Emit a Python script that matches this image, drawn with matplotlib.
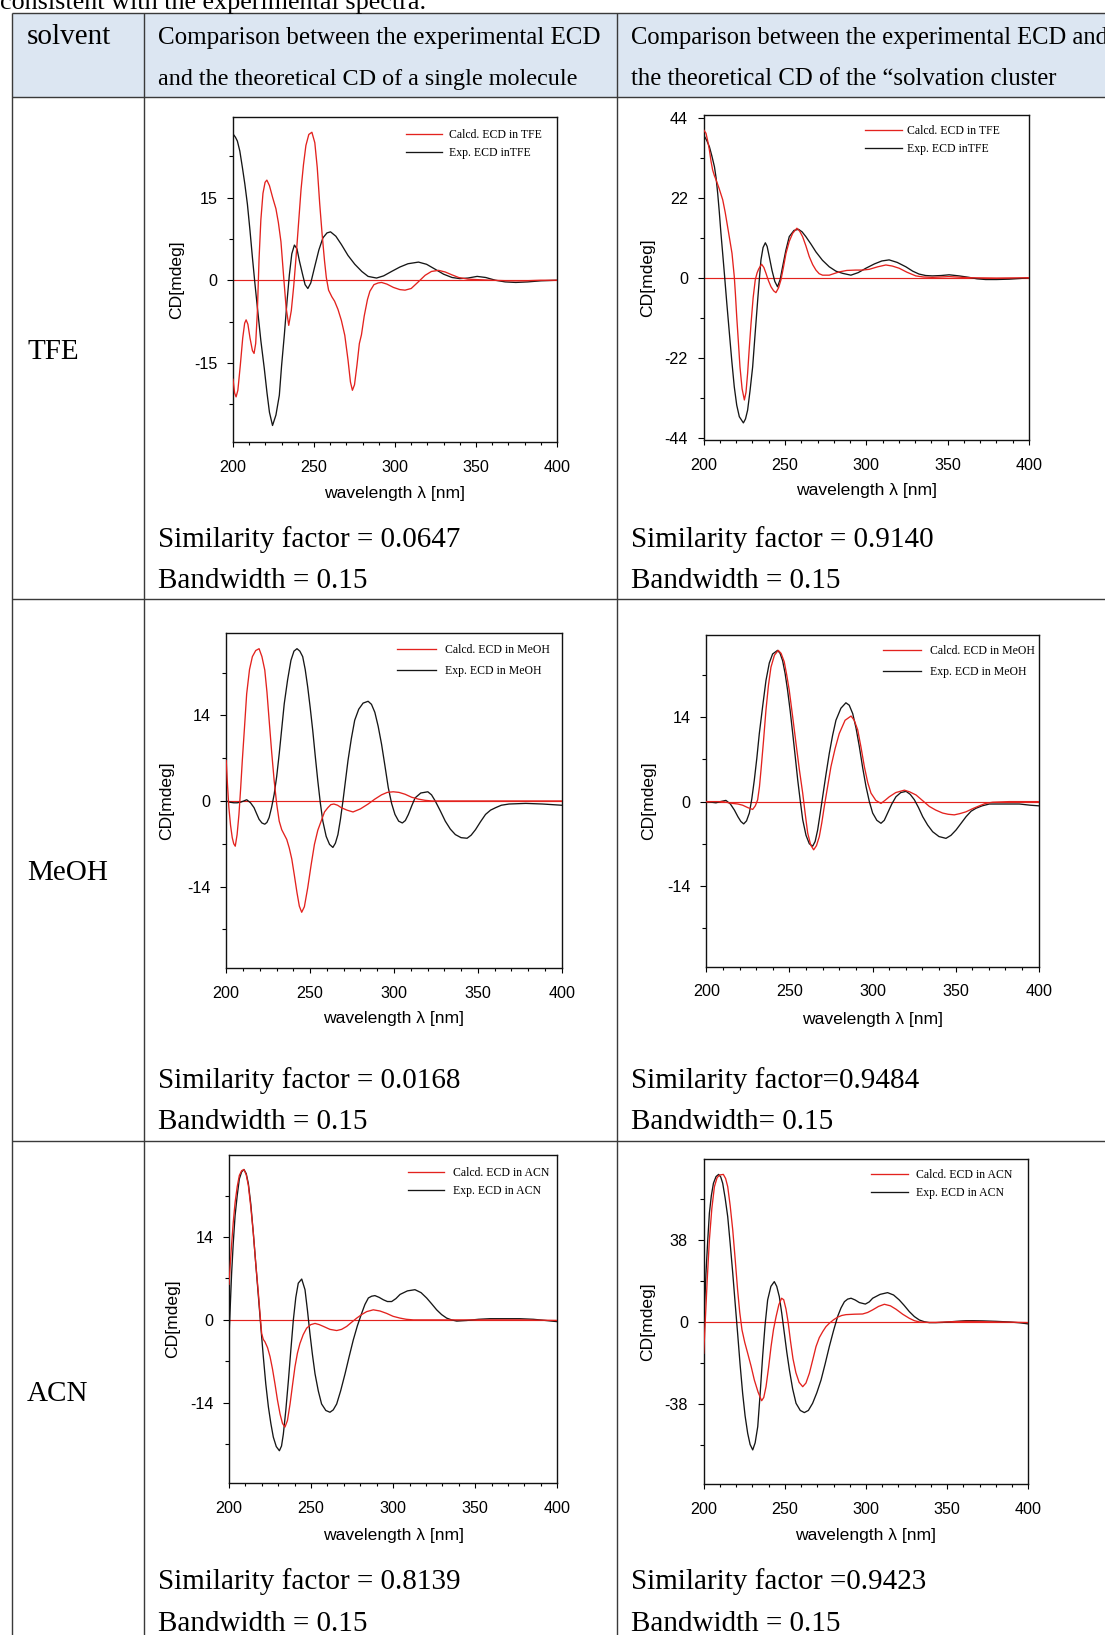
import matplotlib
matplotlib.use("Agg")
import matplotlib.pyplot as plt
from matplotlib.lines import Line2D
from matplotlib.patches import Rectangle
from matplotlib.ticker import FixedLocator, MultipleLocator, FixedFormatter

plt.rcParams["axes.unicode_minus"] = False

# ---------------- data ----------------
wavelength_ticks = [200, 250, 300, 350, 400]
wavelength_tick_labels = ["200", "250", "300", "350", "400"]

# TFE, single molecule
tfe_single_calc_wl = [200, 201, 201.9, 203, 204.5, 206, 207.2, 208.1, 209.2, 210.5, 212, 213, 214, 215, 216.1,
                      217.2, 218.5, 219.8, 220.9, 222.5, 224.5, 226.5, 228, 229.6, 231.3, 232.8, 234.4, 236,
                      237.5, 239, 240.5, 242, 243.5, 245, 246.8, 248.7, 250.5, 252, 253.5, 255, 256.5, 257.6,
                      259, 261, 262.7, 264.8, 266.9, 269, 271, 272.5, 273.7, 275, 276.5, 278, 279.3, 281, 283,
                      284.5, 287, 289.5, 291.7, 295, 299, 303, 306.2, 310, 314, 318.6, 322.5, 326.9, 331, 335,
                      339.3, 345, 352, 360, 370, 380, 390, 400]
tfe_single_calc = [-18.0, -20.5, -21.2, -20.0, -15.5, -10.5, -7.8, -7.2, -8.0, -10.5, -12.8, -13.3, -11.5, -6.0,
                   4.0, 11.0, 15.8, 17.8, 18.2, 17.2, 15.0, 13.0, 10.5, 7.0, 0.5, -5.0, -8.2, -5.5, -1.0, 4.5,
                   10.5, 16.5, 21.0, 24.5, 26.5, 26.9, 25.0, 20.5, 14.0, 8.4, 3.5, 0.5, -1.8, -3.0, -3.8, -5.3,
                   -7.3, -10.0, -14.5, -18.5, -20.0, -19.0, -15.5, -11.5, -9.9, -6.5, -3.5, -2.0, -0.8, -0.5,
                   -0.4, -0.7, -1.3, -1.7, -1.8, -1.5, -0.4, 0.9, 1.6, 1.8, 1.5, 1.0, 0.5, 0.2, 0.1, 0.0, -0.1,
                   -0.1, 0.0, 0.0]
tfe_single_exp_wl = [200, 201.5, 202.7, 204.2, 205.8, 207.3, 208.9, 210.5, 212, 213.5, 215.1, 217.2, 219.3, 221,
                     222.5, 224.4, 226.5, 228.6, 230, 231.7, 233.3, 234.8, 236.3, 237.9, 239.5, 241, 243, 244.5,
                     246.2, 248, 250.3, 253, 255.5, 258, 260.2, 263.5, 266.9, 271, 275.2, 279.5, 283.4, 288.6,
                     293, 297.9, 303, 308, 314.5, 319.5, 324.8, 330, 335.2, 340, 345, 350.7, 356, 362, 368,
                     374.5, 382, 390, 400]
tfe_single_exp = [26.6, 26.0, 25.3, 23.5, 20.5, 17.5, 13.8, 9.0, 4.1, -0.5, -5.1, -11.0, -16.0, -20.5, -24.0,
                  -26.4, -24.5, -20.9, -15.5, -9.9, -4.0, 1.0, 4.8, 6.4, 5.7, 3.5, 1.0, -0.8, -1.5, -0.5, 2.3,
                  5.5, 7.7, 8.6, 8.8, 8.0, 6.5, 4.5, 2.9, 1.6, 0.7, 0.4, 0.8, 1.6, 2.4, 3.0, 3.3, 2.9, 2.0, 1.1,
                  0.5, 0.3, 0.4, 0.7, 0.5, 0.0, -0.3, -0.4, -0.3, -0.1, 0.0]

# TFE, solvation cluster
tfe_cluster_calc_wl = [200, 201.4, 202.5, 203.5, 204.5, 205.5, 206.6, 207.6, 209.5, 211.7, 213.2, 214.7, 216,
                       217.4, 218.8, 219.5, 220.3, 221.3, 222.3, 223.6, 225, 226, 227, 228, 229.1, 230.4, 231.7,
                       232.8, 233.8, 235.6, 237, 238.3, 239.8, 241.4, 243, 244.4, 246, 247.5, 249, 250.6, 252.6,
                       254.7, 257.3, 259, 260.8, 262.8, 264.9, 267, 269, 271, 273.1, 277.2, 283.3, 288, 293.5,
                       297.5, 301.7, 307, 312, 316, 320.2, 325, 330.4, 335, 340.6, 350.9, 363.1, 380, 400]
tfe_cluster_calc = [40.6, 39.7, 37.5, 35.1, 32.0, 29.6, 28.0, 26.9, 24.5, 21.4, 18.0, 14.0, 10.5, 6.7, 0.3,
                    -4.5, -10.7, -17.5, -24.5, -30.5, -33.6, -31.5, -26.3, -19.5, -12.6, -5.5, -0.6, 1.3, 2.4,
                    3.7, 2.8, 1.2, -0.8, -2.5, -3.6, -4.1, -2.8, -0.6, 2.8, 6.7, 10.0, 12.2, 13.6, 12.8, 11.3,
                    8.8, 5.8, 3.6, 2.1, 1.1, 0.7, 0.7, 1.6, 2.0, 2.1, 2.1, 2.3, 3.0, 3.5, 3.2, 2.6, 1.5, 0.5,
                    0.2, 0.1, 0.3, 0.0, -0.1, 0.0]
tfe_cluster_exp_wl = [200, 201.8, 203.5, 205, 206.6, 207.6, 208.6, 209.6, 210.6, 211.7, 212.7, 214.2, 215.8,
                      217.3, 218.8, 220.3, 221.9, 224.4, 225.7, 227, 228.5, 230.1, 231.6, 233.2, 234.2, 235.2,
                      236.5, 237.9, 239, 240.3, 242, 243.7, 245.4, 247, 248.5, 250.5, 252.6, 255.5, 258.3,
                      260.5, 262.8, 266, 269, 273, 277.2, 281.3, 285.4, 290.5, 295, 299.7, 305, 309.5, 314,
                      319, 324.3, 328.5, 332.4, 336.5, 340.6, 346, 350.9, 357, 363.1, 368, 373.4, 380, 387.7,
                      395, 400]
tfe_cluster_exp = [39.2, 37.8, 36.0, 33.5, 30.5, 27.5, 23.2, 18.0, 12.2, 6.5, 1.2, -7.0, -15.3, -23.0, -30.0,
                   -35.0, -38.2, -39.9, -38.8, -36.4, -31.0, -24.5, -15.5, -6.1, -0.5, 4.9, 8.3, 9.6, 8.6, 5.8,
                   2.0, -1.0, -2.5, -0.5, 3.0, 7.5, 11.3, 13.0, 13.3, 12.6, 11.3, 9.2, 7.1, 4.8, 3.0, 1.8, 1.2,
                   0.7, 1.4, 2.6, 3.8, 4.6, 4.9, 4.2, 3.0, 1.8, 1.0, 0.6, 0.5, 0.6, 0.8, 0.5, 0.1, -0.3, -0.5,
                   -0.5, -0.4, -0.2, 0.0]

# MeOH, single molecule
meoh_single_calc_wl = [200, 200.8, 201.6, 202.6, 203.6, 204.5, 205.4, 206.5, 207.6, 208.6, 209.6, 210.9, 212.2,
                       213.9, 215.6, 217.6, 219.6, 221.3, 223, 224.3, 225.6, 227.1, 228.6, 230.1, 231.6, 233.1,
                       234.6, 236.1, 237.6, 239.1, 240.6, 242.2, 243.6, 245, 246.6, 248.6, 250.6, 252.6, 254.6,
                       256.6, 258.6, 260.6, 262.4, 264.2, 266.4, 268.6, 272, 275.6, 280, 284.6, 288.6, 292.6,
                       296, 299.6, 303, 306.6, 310.6, 314.6, 318.6, 322.6, 340, 400]
meoh_single_calc = [6.6, 2.5, -1.1, -4.0, -6.0, -7.0, -7.4, -5.5, -2.2, 2.0, 6.6, 12.0, 17.5, 21.5, 23.6, 24.6,
                    24.9, 23.6, 21.4, 17.8, 13.2, 8.0, 3.3, -0.5, -3.3, -4.7, -5.5, -6.3, -7.7, -9.5, -12.1,
                    -15.0, -17.2, -18.2, -17.3, -14.2, -10.5, -7.1, -4.8, -3.3, -1.8, -1.1, -0.6, -0.5, -0.7,
                    -1.1, -1.5, -1.8, -1.3, -0.5, 0.3, 1.0, 1.4, 1.5, 1.4, 1.1, 0.6, 0.3, 0.1, 0.0, 0.0, 0.0]
meoh_single_exp_wl = [200, 202, 204.6, 206.5, 208.6, 210.5, 212.2, 214.5, 216.6, 218, 219.6, 221.3, 223, 224.3,
                      225.6, 227.1, 228.6, 230.1, 231.6, 233.1, 234.6, 236.6, 238.6, 240.4, 242.2, 243.9, 245.6,
                      247.1, 248.6, 250.1, 251.6, 253.1, 254.6, 256.1, 257.6, 259.6, 261.6, 263.6, 265.1, 266.6,
                      268.1, 269.6, 271.1, 272.6, 274.6, 276.6, 279, 281.6, 284.6, 286.6, 288.6, 290.6, 292.6,
                      294.6, 296.6, 298.6, 300.6, 302.8, 305, 306.8, 308.6, 310.6, 312.6, 316, 320.2, 322.4,
                      324.6, 327.6, 330.6, 333.6, 336.6, 340, 343.6, 346, 348.6, 351.6, 354.6, 357.6, 360.6,
                      364, 368.6, 378.6, 388.6, 400]
meoh_single_exp = [0.0, -0.2, -0.3, -0.3, -0.2, 0.0, 0.2, -0.3, -1.1, -2.0, -3.0, -3.6, -3.8, -3.5, -2.7, -1.0,
                   1.1, 4.0, 7.7, 11.8, 15.9, 19.8, 23.0, 24.5, 24.9, 24.5, 23.6, 21.5, 18.6, 15.2, 11.5, 7.3,
                   3.3, -0.3, -3.3, -5.8, -7.1, -7.6, -6.9, -5.5, -3.0, 0.0, 3.3, 6.6, 10.2, 13.2, 15.0, 16.0,
                   16.3, 15.8, 14.5, 12.2, 9.3, 5.8, 2.2, -0.4, -2.2, -3.3, -3.6, -3.2, -2.2, -0.8, 0.5, 1.3,
                   1.5, 1.0, 0.0, -1.6, -3.3, -4.6, -5.5, -6.0, -6.1, -5.6, -4.7, -3.4, -2.2, -1.5, -1.1, -0.7,
                   -0.5, -0.4, -0.5, -0.7]

# MeOH, solvation cluster
meoh_cluster_calc_wl = [200, 205, 209.8, 215.8, 219, 221.9, 225, 227.9, 229.5, 230.9, 232, 232.9, 234.4, 235.9,
                        237.4, 238.9, 241, 243.3, 245, 246.9, 248.4, 249.9, 252, 254, 256, 258, 259.5, 261,
                        262.8, 264.6, 266.3, 268, 269.5, 271, 273, 275, 277.5, 280, 283.5, 287.1, 289, 291.1,
                        293.1, 295.1, 297.1, 299.1, 302, 305.1, 307.5, 310.1, 314, 319.2, 322.5, 326.2, 330,
                        334.2, 338, 342.2, 345.5, 349.2, 352.5, 356.2, 360, 364.3, 368, 372.3, 382.3, 400]
meoh_cluster_calc = [0.0, 0.0, 0.0, -0.3, -0.4, -0.6, -1.0, -1.3, -0.7, 0.3, 2.5, 5.2, 10.0, 15.2, 19.3, 22.3,
                     24.3, 25.1, 24.6, 23.2, 21.0, 18.5, 14.0, 9.6, 5.3, 1.4, -2.0, -5.2, -7.2, -8.0, -7.3,
                     -5.8, -3.5, -0.8, 2.5, 5.8, 8.8, 11.3, 13.5, 14.2, 13.5, 11.9, 9.0, 5.8, 3.2, 1.4, 0.2,
                     -0.3, 0.2, 0.8, 1.5, 1.9, 1.6, 1.1, 0.2, -0.8, -1.4, -1.9, -2.1, -2.2, -2.0, -1.7, -1.2,
                     -0.7, -0.3, -0.1, 0.0, 0.0]
meoh_cluster_exp_wl = [200, 203, 205.8, 208.5, 211.8, 214.5, 216.9, 219, 220.8, 222.5, 224.2, 225.9, 227.4,
                       228.9, 230.4, 231.9, 233.9, 235.9, 237.9, 239.9, 242.9, 244.4, 245.9, 247.4, 248.9,
                       250.5, 252, 253.5, 255, 256.5, 258, 260, 262, 264, 265.5, 267, 268.5, 270, 272, 274,
                       276, 278, 281, 284, 286, 288.1, 290.1, 292.1, 294.1, 296.1, 298.1, 300.1, 302.6, 305.1,
                       307.1, 309.1, 311.6, 314.1, 317, 320.2, 322.7, 325.2, 327.7, 330.2, 333.2, 336.2, 340,
                       344.2, 347.2, 350.3, 353.3, 356.3, 359.3, 362.3, 366, 370.3, 378.3, 388.4, 395, 400]
meoh_cluster_exp = [0.0, -0.1, -0.2, 0.0, 0.2, -0.4, -1.4, -2.5, -3.3, -3.7, -3.2, -1.9, 0.5, 3.6, 7.2, 11.3,
                    15.8, 20.1, 23.0, 24.5, 25.1, 24.6, 23.4, 21.3, 18.5, 15.0, 11.3, 7.5, 3.6, 0.2, -3.0, -5.6,
                    -7.0, -7.4, -6.6, -4.7, -2.0, 0.8, 4.5, 8.0, 11.0, 13.5, 15.5, 16.4, 16.0, 14.6, 12.2, 9.1,
                    5.6, 2.5, 0.0, -1.9, -3.1, -3.6, -3.1, -1.9, -0.4, 0.8, 1.5, 1.7, 1.2, 0.3, -1.0, -2.5,
                    -3.9, -5.0, -5.8, -6.1, -5.6, -4.7, -3.6, -2.5, -1.6, -1.1, -0.7, -0.4, -0.4, -0.4, -0.6,
                    -0.7]

# ACN, single molecule
acn_single_calc_wl = [200, 200.8, 201.6, 202.6, 203.7, 205, 206.3, 207.7, 209.1, 210.5, 211.8, 213.3, 214.8,
                      216.3, 217.9, 218.9, 219.9, 220.9, 221.9, 223.5, 225, 226.5, 228, 229.5, 231.1, 232.6,
                      234.1, 235.6, 237.2, 238.7, 240.2, 241.7, 243.2, 245.2, 247.3, 249.8, 252.4, 255, 257.5,
                      261.5, 265.6, 268.6, 271.7, 274.7, 277.8, 280.8, 283.9, 287.9, 292, 296, 300, 304.2, 308,
                      312.3, 350, 380, 400]
acn_single_calc = [6.0, 9.5, 12.8, 16.5, 19.8, 22.5, 24.4, 25.2, 25.4, 24.5, 22.7, 19.0, 14.7, 9.5, 4.5, 1.0,
                   -2.3, -3.3, -3.7, -4.7, -6.2, -8.3, -10.8, -13.5, -15.9, -17.5, -18.1, -17.0, -14.2, -11.0,
                   -7.9, -5.6, -4.0, -2.5, -1.4, -0.8, -0.6, -0.8, -1.1, -1.6, -1.8, -1.6, -1.1, -0.4, 0.3, 0.9,
                   1.4, 1.7, 1.5, 1.1, 0.6, 0.3, 0.1, 0.0, 0.0, 0.0, -0.1]
acn_single_exp_wl = [200, 200.8, 201.6, 202.6, 203.7, 205, 206.3, 207.7, 209.1, 210.5, 211.8, 213.3, 214.8,
                     216.3, 217.9, 219.4, 220.9, 222.4, 224, 225.5, 227, 228.8, 230.7, 232, 233.1, 234.6, 236.2,
                     237.7, 239.2, 240.7, 242.2, 244.3, 246.3, 247.8, 249.3, 250.8, 252.4, 254.4, 256.4, 259,
                     261.5, 263.5, 265.6, 268, 270.7, 273.2, 275.7, 278.2, 280.8, 282.8, 284.9, 286.9, 288.9,
                     291.5, 294, 296.5, 299.1, 301.7, 304.2, 308.7, 313.3, 317, 320.4, 323.5, 326.5, 329.5,
                     332.6, 335.6, 338.7, 344.8, 352, 359, 369.1, 377, 385.4, 393, 400]
acn_single_exp = [-3.0, 2.5, 7.9, 13.0, 17.6, 21.0, 23.8, 25.0, 25.4, 24.7, 23.0, 19.5, 14.7, 9.5, 4.0, -1.2,
                  -6.2, -10.8, -14.7, -17.5, -19.8, -21.4, -22.1, -21.3, -19.3, -15.3, -10.2, -5.0, 0.0, 3.8,
                  6.2, 6.9, 5.1, 1.6, -2.3, -5.8, -9.1, -12.0, -14.2, -15.3, -15.6, -15.2, -14.2, -12.0, -9.1,
                  -6.2, -3.4, -1.0, 1.1, 2.6, 3.7, 4.0, 4.1, 3.8, 3.4, 3.1, 3.1, 3.6, 4.3, 4.9, 5.1, 4.6, 3.7,
                  2.7, 1.7, 0.9, 0.3, 0.0, -0.2, -0.1, 0.1, 0.2, 0.2, 0.2, 0.1, -0.1, -0.3]

# ACN, solvation cluster
acn_cluster_calc_wl = [200, 201, 202.2, 203.5, 205, 206.6, 208.2, 209.7, 212.1, 213.5, 214.8, 216.3, 217.9,
                       219.4, 220.9, 222.2, 223.6, 225.3, 227.1, 229.2, 231.2, 233.5, 235.7, 237, 238.4, 240,
                       241.5, 243, 244.6, 246.3, 248, 249.3, 250.7, 252, 253.5, 255, 256.8, 258.8, 261, 263,
                       265.1, 267.2, 269.2, 271.2, 273.3, 275.3, 277.4, 280, 282.5, 285, 287.7, 292.8, 297.9,
                       301, 304.1, 307.7, 311.3, 315, 318.5, 322.6, 326.7, 329.8, 332.9, 338, 343.2, 352, 361.6,
                       370, 380, 390, 400]
acn_cluster_calc = [-14.5, 0.9, 20.0, 38.0, 52.5, 62.7, 66.8, 68.1, 68.4, 66.5, 62.7, 54.0, 42.6, 29.0, 14.8,
                    4.5, -3.7, -9.5, -14.5, -20.5, -26.9, -32.5, -36.5, -35.0, -30.0, -21.0, -11.4, -3.5, 2.5,
                    8.0, 11.0, 10.3, 6.0, 0.0, -9.0, -17.0, -23.5, -28.0, -30.0, -28.3, -23.8, -17.5, -11.4,
                    -7.3, -4.5, -2.2, -0.6, 1.0, 2.2, 3.0, 3.4, 3.6, 3.7, 4.4, 5.6, 7.2, 8.2, 7.5, 5.9, 3.6, 1.7,
                    0.6, 0.0, -0.2, -0.2, 0.1, 0.3, 0.2, 0.0, -0.1, -0.3]
acn_cluster_exp_wl = [200, 200.7, 201.4, 202.5, 203.5, 204.7, 206, 207.6, 209.2, 210.5, 211.7, 213.2, 214.8,
                      216.3, 217.9, 219.4, 220.9, 222.4, 224, 225.5, 227.1, 228.6, 230.2, 231.7, 233.3, 234.8,
                      236.3, 237.8, 239.4, 241.4, 243.5, 245, 246.6, 248.1, 249.7, 251.2, 252.8, 254.8, 256.9,
                      259.5, 262, 264.5, 267.1, 269.7, 272.3, 274.8, 277.4, 280, 282.5, 284.6, 286.7, 288.7,
                      290.8, 293.3, 295.9, 299.6, 302, 304.1, 308.7, 313.3, 317, 320.5, 323.5, 326.7, 329.8,
                      332.9, 336, 339, 343, 347.2, 354, 361.6, 366, 371.9, 380, 388.3, 395, 400]
acn_cluster_exp = [-2.2, 10.0, 22.6, 38.0, 50.4, 58.5, 64.3, 67.4, 68.4, 67.2, 64.3, 57.5, 48.8, 36.5, 22.6, 8.5,
                   -5.3, -19.5, -33.1, -43.5, -51.6, -56.8, -59.3, -56.0, -48.5, -33.0, -16.1, -1.5, 10.2, 16.5,
                   18.7, 16.5, 11.7, 4.0, -5.3, -14.0, -22.2, -31.0, -37.7, -41.0, -42.0, -41.0, -37.7, -32.8,
                   -26.9, -19.5, -11.4, -4.0, 2.5, 6.5, 9.4, 10.6, 11.0, 10.2, 9.0, 8.3, 9.3, 11.0, 12.8, 13.6,
                   12.5, 10.2, 7.7, 4.8, 2.5, 0.9, 0.1, -0.3, -0.3, -0.2, 0.2, 0.6, 0.6, 0.5, 0.3, 0.0, -0.4, -0.9]

solvents = ["TFE", "MeOH", "ACN"]
calc_labels = ["Calcd. ECD in TFE", "Calcd. ECD in MeOH", "Calcd. ECD in ACN"]
exp_labels = ["Exp. ECD inTFE", "Exp. ECD in MeOH", "Exp. ECD in ACN"]
similarity_single = ["Similarity factor = 0.0647", "Similarity factor = 0.0168", "Similarity factor = 0.8139"]
similarity_cluster = ["Similarity factor = 0.9140", "Similarity factor=0.9484", "Similarity factor =0.9423"]
bandwidth_single = ["Bandwidth = 0.15", "Bandwidth = 0.15", "Bandwidth = 0.15"]
bandwidth_cluster = ["Bandwidth = 0.15", "Bandwidth= 0.15", "Bandwidth = 0.15"]
y_major_ticks = [[-15, 0, 15], [-44, -22, 0, 22, 44], [-14, 0, 14], [-14, 0, 14], [-14, 0, 14], [-38, 0, 38]]
y_minor_ticks = [[-22.5, -7.5, 7.5, 22.5], [-33, -11, 11, 33], [-21, -7, 7, 21], [-21, -7, 7, 21],
                 [-21, -7, 7, 21], [-57, -19, 19, 57]]
y_limits = [(-29.4, 29.6), (-44.6, 44.8), (-27.3, 27.4), (-27.4, 27.7), (-27.6, 27.9), (-75.1, 75.4)]

# ---------------- layout ----------------
W, H, DPI = 1105, 1635, 100
RED = "#e3221e"
BLACK = "#161616"
GRID = "#3a3a3a"
SERIF = "Liberation Serif"
SANS = "Liberation Sans"

fig = plt.figure(figsize=(W / DPI, H / DPI), dpi=DPI)
fig.patch.set_facecolor("white")


def fx(x):
    return x / W


def fy(y):
    return 1 - y / H


def px2pt(v):
    return v * 72.0 / DPI


# header background
fig.add_artist(Rectangle((fx(12), fy(97.5)), fx(1105) - fx(12), fy(13.3) - fy(97.5),
                         transform=fig.transFigure, facecolor="#dce6f2", edgecolor="none", zorder=0))


def hline(y, x0, x1, lw=1.4):
    fig.add_artist(Line2D([fx(x0), fx(x1)], [fy(y), fy(y)], transform=fig.transFigure,
                          color=GRID, lw=px2pt(lw), solid_capstyle="butt"))


def vline(x, y0, y1, lw=1.4):
    fig.add_artist(Line2D([fx(x), fx(x)], [fy(y0), fy(y1)], transform=fig.transFigure,
                          color=GRID, lw=px2pt(lw), solid_capstyle="butt"))


for yy in [13.3, 97.5, 598.8, 1140.6]:
    hline(yy, 11.5, 1105)
for xx in [11.8, 143.5, 616.5]:
    vline(xx, 12.6, 1635)


def ftext(x, y, s, size, **kw):
    fig.text(fx(x), fy(y), s, fontsize=size, family=SERIF, va="baseline", ha="left", **kw)


ftext(0, 8.5, "consistent with the experimental spectra.", 18.8)
ftext(26.7, 44.5, "solvent", 21)
ftext(158.3, 44, "Comparison between the experimental ECD", 18.0)
ftext(158.3, 85, "and the theoretical CD of a single molecule", 17.4)
ftext(631, 44, "Comparison between the experimental ECD and", 17.7)
ftext(631, 85, "the theoretical CD of the \u201csolvation cluster", 17.8)

row_label_base = [359, 880, 1401]
sim_base = [546.7, 1087.7, 1589]
bw_base = [588.3, 1129.3, 1630.7]
for i in range(3):
    ftext(27, row_label_base[i], solvents[i], 21)
    ftext(158.3, sim_base[i], similarity_single[i], 21)
    ftext(158.3, bw_base[i], bandwidth_single[i], 21)
    ftext(631, sim_base[i], similarity_cluster[i], 21)
    ftext(631, bw_base[i], bandwidth_cluster[i], 21)

# panel boxes (left, right, top, bottom) in pixels
boxes = [(233, 557, 117.4, 442), (703.7, 1029, 114.7, 440),
         (226.2, 561.7, 633.4, 967.9), (706.3, 1038.7, 634.7, 966.7),
         (229, 557.3, 1154.7, 1483.3), (703.7, 1028.3, 1159.3, 1484)]
# legend: handle x start, row1 y, row2 y, handle length, text gap
legends = [(406, 134.5, 153.7, 36, 6.6), (864.7, 130.7, 150, 37, 5.5),
           (397, 649.5, 671.3, 39, 8.6), (882.7, 650.3, 672.3, 38.3, 9),
           (407.7, 1172.3, 1191.7, 36.6, 8.7), (871, 1174.7, 1194, 36.7, 8.3)]
# xlabel offset below axes, ylabel offset left of axes (px)
label_offsets = [(51, 56), (51, 56), (50.5, 59.5), (52.5, 58), (52, 56.7), (51.5, 56)]

series = [
    (tfe_single_calc_wl, tfe_single_calc, tfe_single_exp_wl, tfe_single_exp),
    (tfe_cluster_calc_wl, tfe_cluster_calc, tfe_cluster_exp_wl, tfe_cluster_exp),
    (meoh_single_calc_wl, meoh_single_calc, meoh_single_exp_wl, meoh_single_exp),
    (meoh_cluster_calc_wl, meoh_cluster_calc, meoh_cluster_exp_wl, meoh_cluster_exp),
    (acn_single_calc_wl, acn_single_calc, acn_single_exp_wl, acn_single_exp),
    (acn_cluster_calc_wl, acn_cluster_calc, acn_cluster_exp_wl, acn_cluster_exp),
]

LEG_FS = 8.5
leg_fs_px = LEG_FS * DPI / 72.0

for k in range(6):
    l, r, t, b = boxes[k]
    wpx, hpx = r - l, b - t
    ax = fig.add_axes([fx(l), fy(b), wpx / W, hpx / H])
    cwl, cv, ewl, ev = series[k]
    ax.axhline(0, color=RED, lw=0.85, zorder=1)
    ax.plot(ewl, ev, color=BLACK, lw=0.95, zorder=2, solid_joinstyle="round")
    ax.plot(cwl, cv, color=RED, lw=0.95, zorder=3, solid_joinstyle="round")
    ax.set_xlim(200, 400)
    ax.set_ylim(*y_limits[k])
    ax.xaxis.set_major_locator(FixedLocator(wavelength_ticks))
    ax.xaxis.set_major_formatter(FixedFormatter(wavelength_tick_labels))
    ax.xaxis.set_minor_locator(MultipleLocator(10))
    ax.yaxis.set_major_locator(FixedLocator(y_major_ticks[k]))
    ax.yaxis.set_major_formatter(FixedFormatter([str(v) for v in y_major_ticks[k]]))
    ax.yaxis.set_minor_locator(FixedLocator(y_minor_ticks[k]))
    ax.tick_params(axis="x", which="major", direction="out", length=3.6, width=0.8, pad=9.2,
                   labelsize=11.6, top=False)
    ax.tick_params(axis="x", which="minor", direction="out", length=2.5, width=0.8, top=False)
    ax.tick_params(axis="y", which="major", direction="out", length=4.5, width=0.8, pad=6.8,
                   labelsize=11.6, right=False)
    ax.tick_params(axis="y", which="minor", direction="out", length=3.0, width=0.8, right=False)
    for lab in ax.get_xticklabels() + ax.get_yticklabels():
        lab.set_family(SANS)
    for sp in ax.spines.values():
        sp.set_linewidth(1.0)
        sp.set_color("#111111")

    xo, yo = label_offsets[k]
    ax.set_xlabel("wavelength \u03bb [nm]", fontsize=12.6, family=SANS)
    ax.xaxis.set_label_coords(0.5, -xo / hpx)
    ax.xaxis.label.set_va("center")
    ax.set_ylabel("CD[mdeg]", fontsize=12.6, family=SANS)
    ax.yaxis.set_label_coords(-yo / wpx, 0.5)
    ax.yaxis.label.set_va("center")
    ax.yaxis.label.set_ha("center")

    hx, y1, y2, hl, gap = legends[k]
    row_h = 1.107 * leg_fs_px
    lsp = max(0.0, (y2 - y1 - row_h) / leg_fs_px)
    hdl = [Line2D([], [], color=RED, lw=0.95), Line2D([], [], color=BLACK, lw=0.95)]
    ax.legend(hdl, [calc_labels[k // 2], exp_labels[k // 2]], loc="center left",
              bbox_to_anchor=((hx - l) / wpx, (b - (y1 + y2) / 2) / hpx),
              frameon=False, borderpad=0, borderaxespad=0, handlelength=hl / leg_fs_px,
              handletextpad=gap / leg_fs_px, labelspacing=lsp,
              prop={"family": SERIF, "size": LEG_FS})

fig.savefig("out.png", dpi=DPI, facecolor="white")
